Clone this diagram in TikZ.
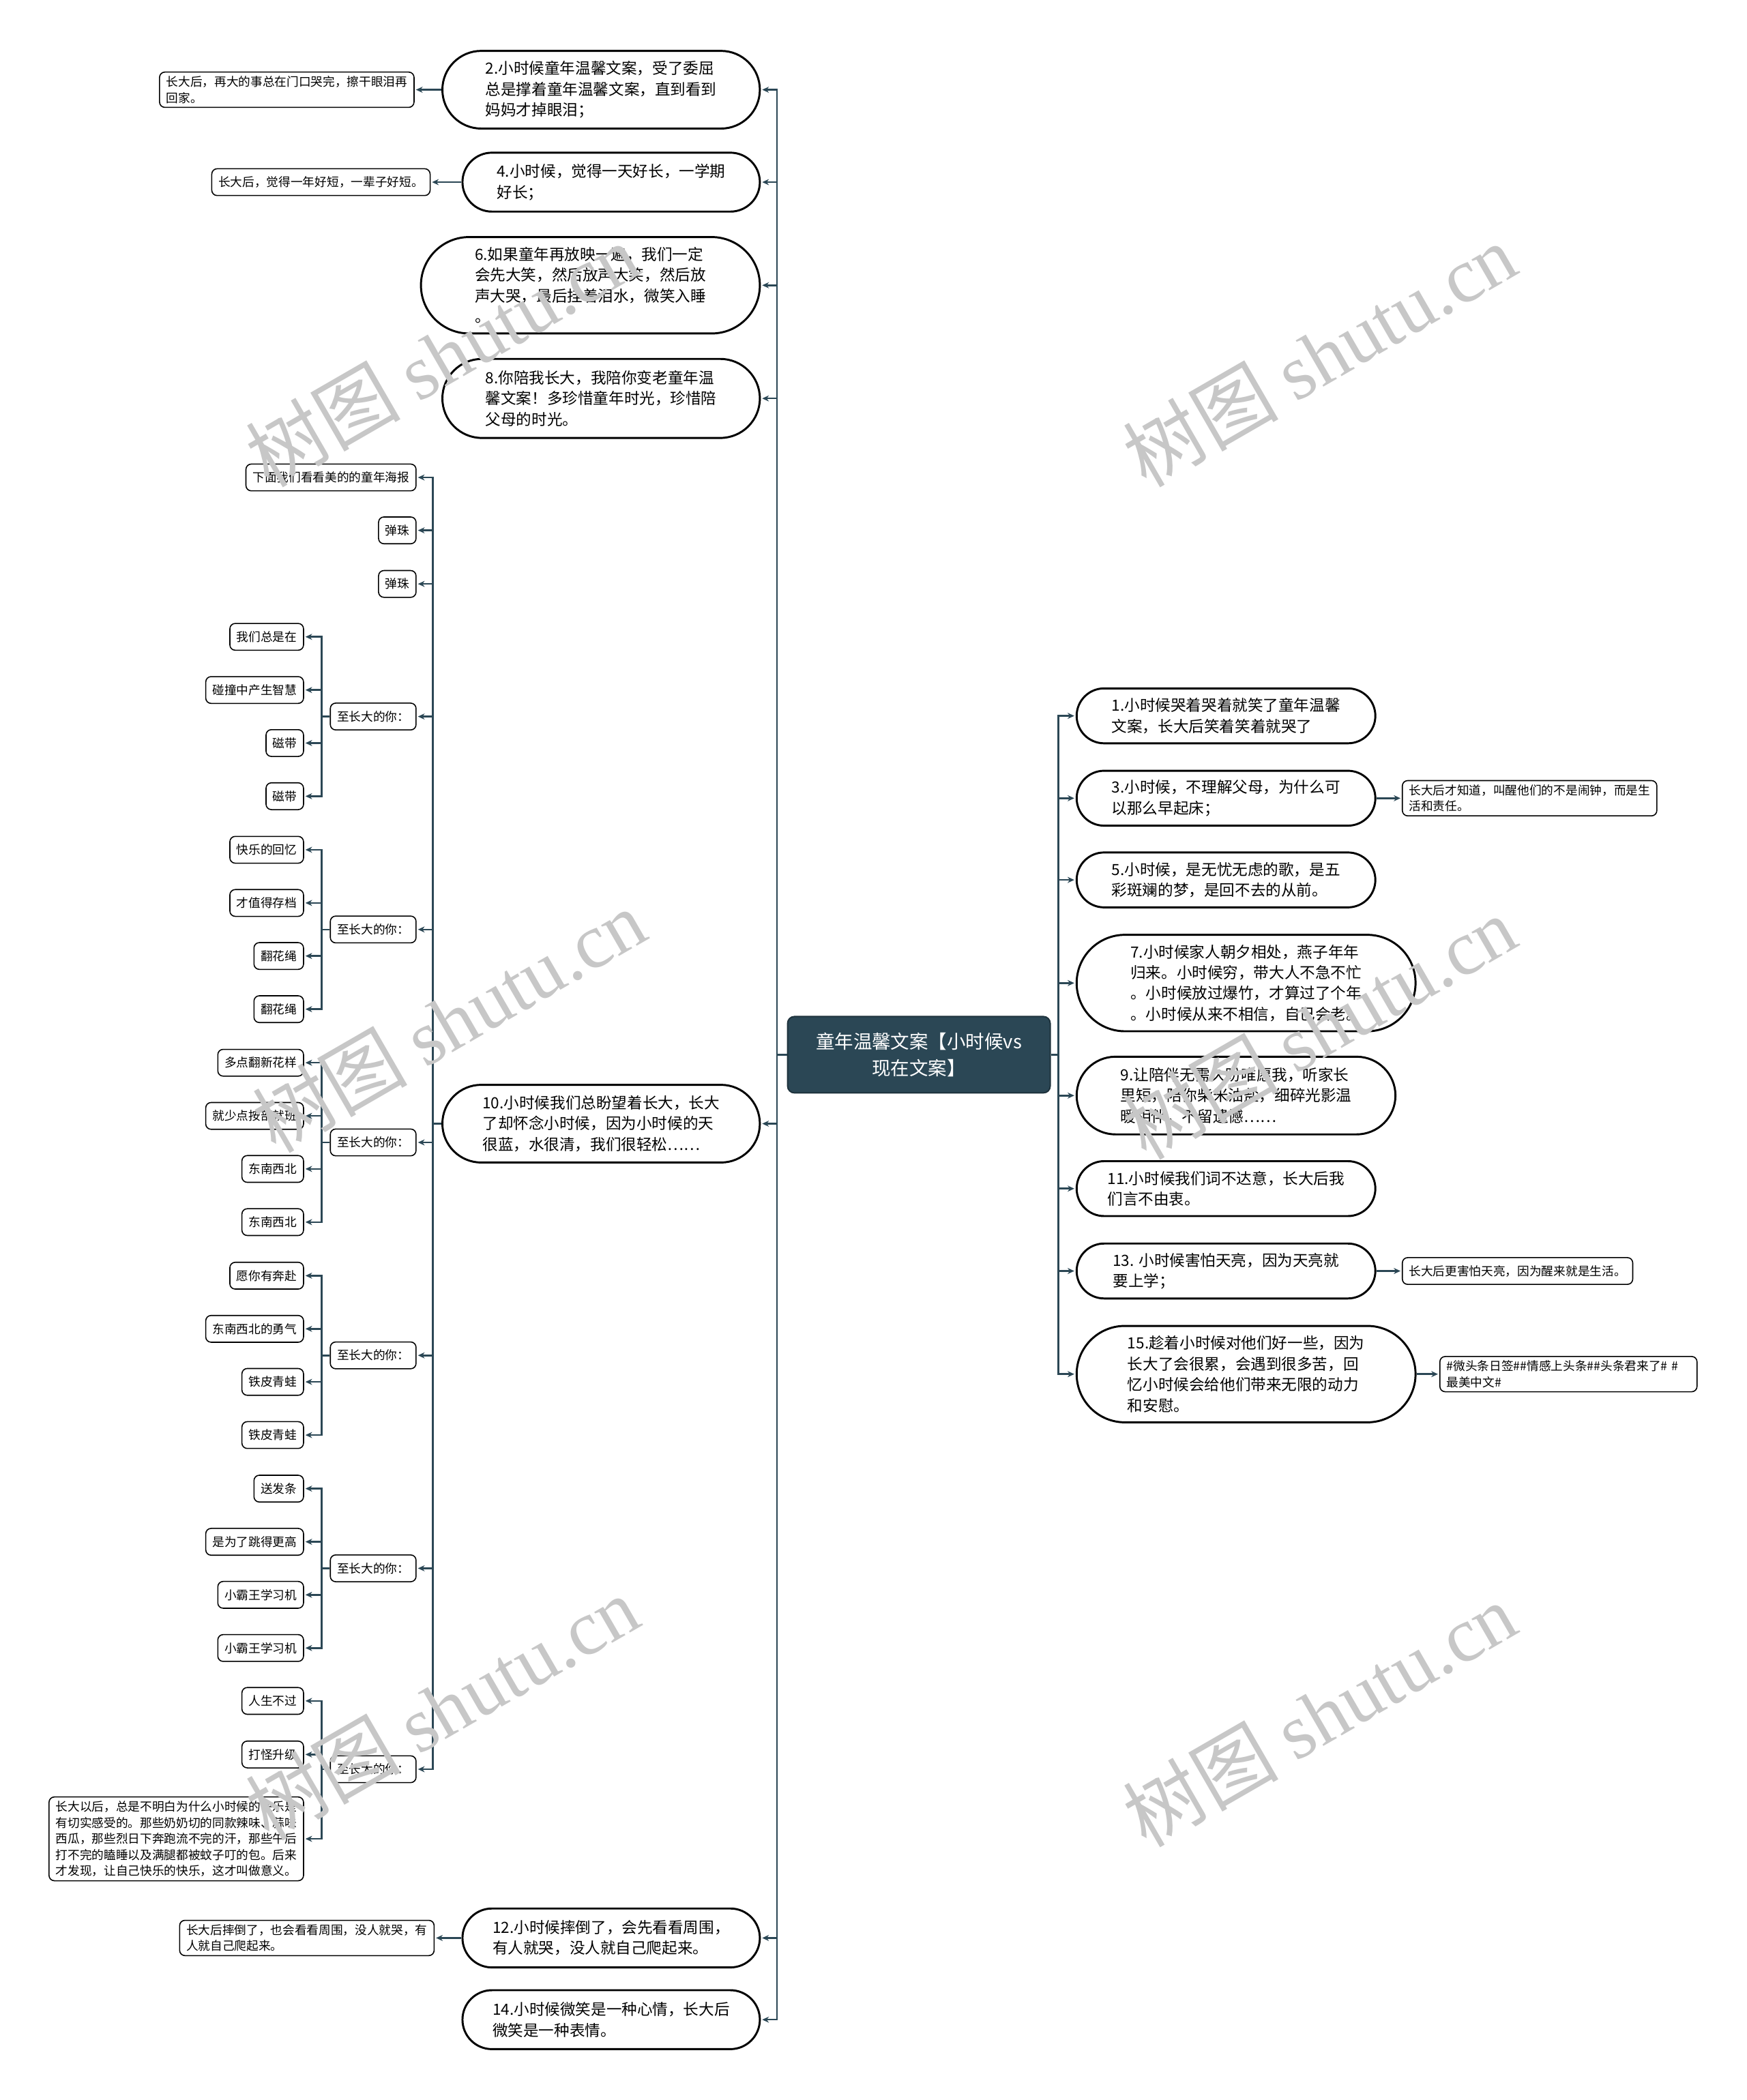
\documentclass[tikz,border=0pt]{standalone}
\usepackage{fontspec}
\setmainfont{Noto Sans CJK SC}
\newfontfamily\wmlatin{Liberation Serif}
\usetikzlibrary{shapes.misc,arrows.meta,positioning}
\definecolor{rootfill}{HTML}{2B4755}
\definecolor{linkc}{HTML}{2B4755}

\begin{document}
\begin{tikzpicture}[
  x=1pt, y=-1pt,
  root/.style={rectangle, rounded corners=5pt, draw=rootfill!70!black, line width=1pt,
    fill=rootfill, text=white, align=center, font=\fontsize{14}{20}\selectfont,
    minimum width=196pt, minimum height=57pt},
  topic/.style={rounded rectangle, draw=black, line width=1.5pt, fill=white, align=left,
    font=\fontsize{11.5}{15.5}\selectfont, inner sep=0pt},
  leaf/.style={rectangle, rounded corners=4pt, draw=black, line width=0.8pt, fill=white,
    align=left, font=\fontsize{9}{12}\selectfont, inner xsep=5pt, inner ysep=3pt,
    minimum height=20pt},
  link/.style={draw=linkc, line width=1.3pt},
  conn/.style={link, -{Stealth[length=5pt,width=4.5pt]}, shorten >=1pt},
  wmark/.style={rotate=30, text=black!22, font=\fontsize{58}{58}\selectfont, inner sep=0pt}
]
\useasboundingbox (0,0) rectangle (1304,1568);

\def\xTrunkL{580}
\def\xTrunkR{790}
\def\xTopicL{568}
\def\xTopicR{803}
\def\xSubT{323}
\def\xSubR{311}
\def\xGrpT{240}
\def\xGrpR{227}

% ------------------------
% Root
% ------------------------
\node[root] (root) at (686,787.5) {童年温馨文案【小时候vs\\现在文案】};

% Left topics
\node[topic, anchor=east, minimum width=237pt, minimum height=58pt] (n2) at (\xTopicL,67)
  {2.小时候童年温馨文案，受了委屈\\总是撑着童年温馨文案，直到看到\\妈妈才掉眼泪；};
\node[topic, anchor=east, minimum width=222pt, minimum height=44pt] (n4) at (\xTopicL,136)
  {4.小时候，觉得一天好长，一学期\\好长；};
\node[topic, anchor=east, minimum width=253pt, minimum height=72pt] (n6) at (\xTopicL,213)
  {6.如果童年再放映一遍，我们一定\\会先大笑，然后放声大笑，然后放\\声大哭，最后挂着泪水，微笑入睡\\。};
\node[topic, anchor=east, minimum width=237pt, minimum height=59pt] (n8) at (\xTopicL,297.5)
  {8.你陪我长大，我陪你变老童年温\\馨文案！多珍惜童年时光，珍惜陪\\父母的时光。};
\node[topic, anchor=east, minimum width=237pt, minimum height=58pt] (n10) at (\xTopicL,839)
  {10.小时候我们总盼望着长大，长大\\了却怀念小时候，因为小时候的天\\很蓝，水很清，我们很轻松……};
\node[topic, anchor=east, minimum width=222pt, minimum height=44pt] (n12) at (\xTopicL,1447)
  {12.小时候摔倒了，会先看看周围，\\有人就哭，没人就自己爬起来。};
\node[topic, anchor=east, minimum width=222pt, minimum height=44pt] (n14) at (\xTopicL,1508)
  {14.小时候微笑是一种心情，长大后\\微笑是一种表情。};

% Right topics
\node[topic, anchor=west, minimum width=223pt, minimum height=41pt] (r1) at (\xTopicR,534.5)
  {1.小时候哭着哭着就笑了童年温馨\\文案，长大后笑着笑着就哭了};
\node[topic, anchor=west, minimum width=223pt, minimum height=41pt] (r3) at (\xTopicR,596)
  {3.小时候，不理解父母，为什么可\\以那么早起床；};
\node[topic, anchor=west, minimum width=223pt, minimum height=41pt] (r5) at (\xTopicR,657)
  {5.小时候，是无忧无虑的歌，是五\\彩斑斓的梦，是回不去的从前。};
\node[topic, anchor=west, minimum width=253pt, minimum height=72pt] (r7) at (\xTopicR,734)
  {7.小时候家人朝夕相处，燕子年年\\归来。小时候穷，带大人不急不忙\\。小时候放过爆竹，才算过了个年\\。小时候从来不相信，自己会老。};
\node[topic, anchor=west, minimum width=238pt, minimum height=58pt] (r9) at (\xTopicR,818)
  {9.让陪伴无需久盼唯愿我，听家长\\里短，陪你柴米油盐，细碎光影温\\暖相伴，不留遗憾……};
\node[topic, anchor=west, minimum width=223pt, minimum height=41pt] (r11) at (\xTopicR,887.5)
  {11.小时候我们词不达意，长大后我\\们言不由衷。};
\node[topic, anchor=west, minimum width=223pt, minimum height=41pt] (r13) at (\xTopicR,949)
  {13. 小时候害怕天亮，因为天亮就\\要上学；};
\node[topic, anchor=west, minimum width=253pt, minimum height=72pt] (r15) at (\xTopicR,1026)
  {15.趁着小时候对他们好一些，因为\\长大了会很累，会遇到很多苦，回\\忆小时候会给他们带来无限的动力\\和安慰。};

% Notes beside topics
\node[leaf, left=20pt of n2] (n2c) {长大后，再大的事总在门口哭完，擦干眼泪再\\回家。};
\node[leaf, left=23pt of n4] (n4c) {长大后，觉得一年好短，一辈子好短。};
\node[leaf, left=20pt of n12] (n12c) {长大后摔倒了，也会看看周围，没人就哭，有\\人就自己爬起来。};
\node[leaf, right=19pt of r3] (r3c) {长大后才知道，叫醒他们的不是闹钟，而是生\\活和责任。};
\node[leaf, right=19pt of r13] (r13c) {长大后更害怕天亮，因为醒来就是生活。};
\node[leaf, right=17pt of r15, text width=182pt] (r15c) {\#微头条日签\#\#情感上头条\#\#头条君来了\# \#\\最美中文\#};

% Under topic 10
\node[leaf, anchor=east] (p1) at (\xSubR,356.5) {下面我们看看美的的童年海报};
\node[leaf, anchor=east] (p2) at (\xSubR,396) {弹珠};
\node[leaf, anchor=east] (p3) at (\xSubR,436) {弹珠};

\foreach \g/\gy/\ta/\tb/\tc/\td in {
  g1/535/我们总是在/碰撞中产生智慧/磁带/磁带,
  g2/694/快乐的回忆/才值得存档/翻花绳/翻花绳,
  g3/853/多点翻新花样/就少点按部就班/东南西北/东南西北,
  g4/1012/愿你有奔赴/东南西北的勇气/铁皮青蛙/铁皮青蛙,
  g5/1171/送发条/是为了跳得更高/小霸王学习机/小霸王学习机}{
  \node[leaf, anchor=east] (\g) at (\xSubR,\gy) {至长大的你：};
  \node[leaf, anchor=east] (\g-a) at (\xGrpR,\gy-59.5) {\ta};
  \node[leaf, anchor=east] (\g-b) at (\xGrpR,\gy-19.8) {\tb};
  \node[leaf, anchor=east] (\g-c) at (\xGrpR,\gy+19.8) {\tc};
  \node[leaf, anchor=east] (\g-d) at (\xGrpR,\gy+59.5) {\td};
  \coordinate (\g-t) at (\xGrpT,\gy);
  \draw[link] (\g.west) -- (\g-t);
  \foreach \k in {a,b,c,d}
    \draw[conn] (\g-t) |- (\g-\k.east);
}

\node[leaf, anchor=east] (g6) at (\xSubR,1321) {至长大的你：};
\node[leaf, anchor=east] (g6-a) at (\xGrpR,1270) {人生不过};
\node[leaf, anchor=east] (g6-b) at (\xGrpR,1310) {打怪升级};
\node[leaf, anchor=east] (g6-c) at (\xGrpR,1373)
  {长大以后，总是不明白为什么小时候的快乐是\\有切实感受的。那些奶奶切的同款辣味、蒜味\\西瓜，那些烈日下奔跑流不完的汗，那些午后\\打不完的瞌睡以及满腿都被蚊子叮的包。后来\\才发现，让自己快乐的快乐，这才叫做意义。};
\coordinate (g6-t) at (\xGrpT,1321);
\draw[link] (g6.west) -- (g6-t);
\foreach \k in {a,b,c}
  \draw[conn] (g6-t) |- (g6-\k.east);

% ------------------------
% Connectors
% ------------------------
\coordinate (lt) at (\xTrunkL,787.5);
\coordinate (rt) at (\xTrunkR,787.5);
\draw[link] (root.west) -- (lt);
\draw[link] (root.east) -- (rt);
\foreach \n in {n2,n4,n6,n8,n10,n12,n14}
  \draw[conn] (lt) |- (\n.east);
\foreach \n in {r1,r3,r5,r7,r9,r11,r13,r15}
  \draw[conn] (rt) |- (\n.west);

\draw[conn] (n2.west) -- (n2c.east);
\draw[conn] (n4.west) -- (n4c.east);
\draw[conn] (n12.west) -- (n12c.east);
\draw[conn] (r3.east) -- (r3c.west);
\draw[conn] (r13.east) -- (r13c.west);
\draw[conn] (r15.east) -- (r15c.west);

\coordinate (st) at (\xSubT,839);
\draw[link] (n10.west) -- (st);
\foreach \n in {p1,p2,p3,g1,g2,g3,g4,g5,g6}
  \draw[conn] (st) |- (\n.east);

% watermark
\foreach \wx/\wy [count=\i] in {330/265,985/265,335/762,985/767,330/1275,985/1280}
  \node[wmark] (wm\i) at (\wx,\wy) {树图 {\wmlatin shutu.cn}};

\end{tikzpicture}
\end{document}
